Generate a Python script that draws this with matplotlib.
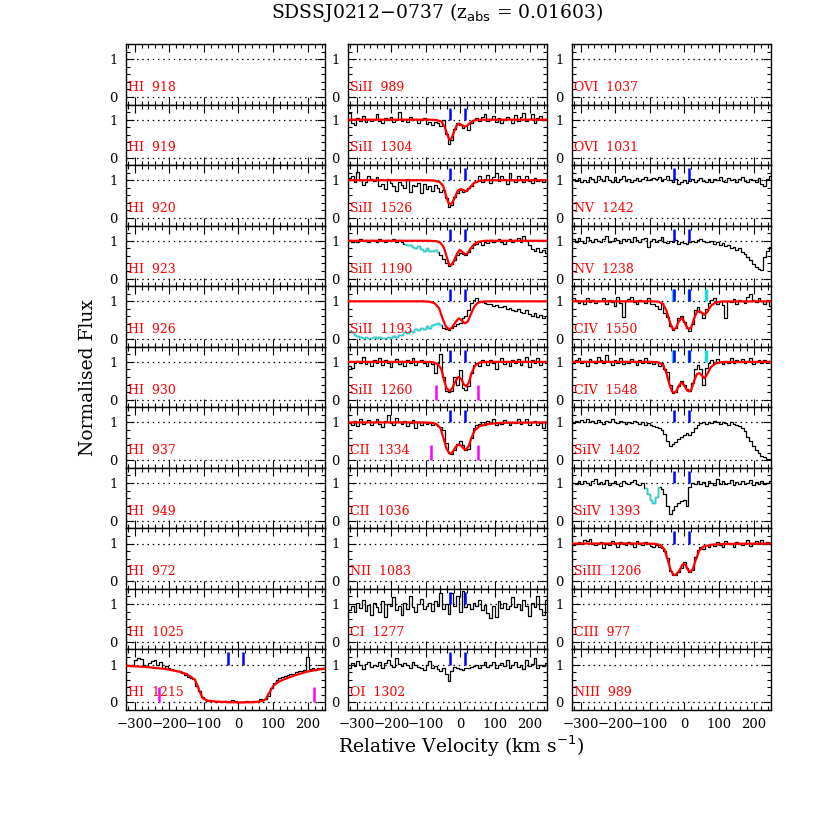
import numpy as np
import matplotlib
matplotlib.use('Agg')
import matplotlib.pyplot as plt
from matplotlib.ticker import MultipleLocator, FixedLocator

# pixel centres of the binned spectra (km/s)
vel = np.arange(-321, 248, 8)

# ---- fluxes, in percent of the continuum ----
hi1215 = [98, 97, 100, 112, 118, 115, 100, 96, 104, 110,
          112, 98, 106, 92, 96, 90, 88, 86, 82, 84,
          78, 72, 66, 64, 62, 44, 30, 14, 8, 4,
          3, 5, 2, 4, 1, 3, 2, 1, 6, 3,
          1, 2, 0, 3, 2, 1, 4, 2, 8, 6,
          10, 16, 38, 52, 58, 64, 66, 70, 72, 74,
          76, 80, 82, 84, 86, 120, 88, 90, 86, 92, 88, 90]
si1304 = [118, 92, 85, 104, 96, 110, 93, 101, 97, 103,
          115, 97, 92, 104, 99, 108, 95, 100, 120, 96,
          102, 94, 106, 98, 103, 91, 100, 105, 88, 93,
          86, 95, 90, 84, 98, 62, 35, 46, 76, 92,
          86, 79, 82, 74, 90, 100, 104, 97, 108, 115,
          96, 101, 110, 95, 104, 92, 98, 106, 103, 90,
          112, 97, 108, 118, 96, 101, 114, 92, 105, 110, 98, 103]
si1526 = [105, 112, 96, 122, 100, 88, 94, 110, 103, 98,
          108, 86, 90, 78, 104, 92, 86, 72, 95, 88,
          80, 102, 70, 88, 84, 93, 66, 90, 76, 85,
          72, 88, 80, 68, 75, 52, 30, 34, 55, 66,
          74, 70, 72, 80, 86, 94, 98, 110, 95, 104,
          115, 92, 108, 120, 98, 112, 104, 90, 118, 100,
          96, 112, 104, 95, 110, 99, 92, 106, 98, 101, 95, 100]
si1190 = [102, 98, 100, 96, 104, 99, 101, 97, 103, 100,
          98, 105, 100, 97, 102, 99, 104, 96, 101, 98,
          92, 88, 90, 84, 80, 86, 78, 74, 80, 72,
          74, 76, 70, 62, 52, 40, 34, 38, 50, 62,
          68, 66, 62, 70, 80, 88, 92, 96, 90, 98,
          95, 102, 96, 100, 104, 98, 92, 100, 106, 97,
          103, 108, 96, 112, 100, 90, 78, 74, 80, 70, 75, 68]
si1193 = [22, 18, 12, 8, 6, 4, 5, 3, 4, 6,
          3, 5, 4, 2, 6, 4, 8, 5, 12, 10,
          18, 15, 22, 20, 26, 24, 30, 28, 34, 30,
          38, 40, 42, 38, 30, 26, 24, 30, 36, 40,
          44, 56, 62, 78, 96, 104, 108, 100, 98, 95,
          92, 94, 88, 90, 86, 84, 88, 80, 82, 78,
          74, 80, 72, 68, 76, 66, 62, 70, 58, 64, 55, 60]
si1260 = [88, 84, 96, 102, 98, 112, 94, 100, 88, 104,
          96, 110, 92, 104, 98, 86, 100, 108, 95, 103,
          90, 105, 98, 110, 92, 100, 104, 96, 88, 102,
          95, 70, 98, 120, 60, 22, 20, 24, 60, 40,
          78, 30, 25, 35, 70, 92, 96, 88, 104, 100,
          92, 106, 98, 80, 102, 110, 95, 100, 88, 104,
          96, 108, 92, 100, 112, 86, 104, 98, 110, 92, 100, 96]
c1334 = [98, 92, 104, 90, 110, 96, 100, 106, 94, 102,
         108, 96, 88, 104, 120, 98, 92, 112, 100, 95,
         103, 90, 98, 106, 84, 100, 94, 102, 96, 98,
         92, 96, 90, 88, 80, 45, 18, 16, 26, 42,
         52, 40, 28, 30, 58, 84, 92, 96, 100, 94,
         104, 98, 110, 92, 100, 96, 106, 102, 94, 100,
         98, 108, 96, 102, 110, 94, 100, 104, 92, 98, 86, 100]
c1277 = [85, 96, 78, 104, 90, 112, 82, 98, 70, 102,
         92, 80, 108, 66, 100, 94, 118, 84, 96, 72,
         104, 88, 122, 92, 78, 100, 114, 86, 96, 104,
         82, 108, 96, 128, 86, 100, 74, 130, 96, 120,
         80, 134, 92, 100, 88, 102, 96, 110, 84, 98,
         76, 62, 94, 66, 108, 90, 102, 86, 96, 118,
         92, 100, 84, 112, 96, 68, 104, 92, 120, 86, 70, 112]
o1302 = [92, 104, 96, 110, 98, 88, 102, 106, 94, 100,
         96, 108, 90, 104, 112, 98, 94, 118, 102, 96,
         104, 98, 92, 106, 100, 94, 90, 86, 98, 110,
         92, 96, 88, 84, 90, 76, 56, 82, 94, 90,
         88, 86, 92, 90, 94, 96, 100, 92, 98, 106,
         94, 100, 108, 92, 98, 104, 96, 112, 90, 100,
         106, 94, 100, 88, 112, 96, 102, 118, 92, 100, 96, 104]
n1242 = [102, 98, 106, 96, 100, 94, 108, 102, 96, 110,
         104, 98, 112, 100, 96, 108, 94, 102, 110, 98,
         104, 96, 100, 106, 98, 102, 108, 100, 104, 106,
         102, 108, 98, 104, 112, 100, 96, 104, 90, 94,
         100, 92, 98, 104, 96, 100, 106, 98, 94, 102,
         96, 104, 100, 108, 98, 94, 106, 100, 104, 96,
         102, 108, 98, 96, 104, 100, 94, 106, 90, 86, 104, 110]
n1238 = [104, 98, 108, 100, 94, 110, 102, 96, 106, 100,
         98, 104, 112, 96, 100, 108, 102, 94, 104, 100,
         106, 98, 110, 102, 96, 104, 108, 84, 100, 104,
         96, 102, 110, 98, 94, 100, 96, 102, 92, 96,
         94, 92, 98, 100, 96, 102, 104, 100, 98, 96,
         100, 92, 96, 88, 94, 86, 90, 80, 84, 76,
         80, 70, 64, 56, 48, 38, 30, 26, 22, 58, 74, 84]
c1550 = [110, 104, 96, 100, 92, 108, 98, 104, 96, 102,
         100, 110, 94, 104, 98, 88, 112, 96, 58, 100,
         106, 112, 98, 92, 104, 100, 96, 108, 92, 94,
         88, 80, 96, 70, 58, 34, 24, 30, 56, 60,
         46, 30, 22, 40, 78, 86, 72, 56, 80, 96,
         104, 110, 92, 100, 90, 56, 100, 98, 106, 94,
         104, 100, 96, 112, 120, 104, 98, 108, 100, 92, 104, 88]
c1548 = [98, 104, 110, 96, 102, 90, 108, 100, 96, 112,
         104, 96, 118, 100, 92, 106, 98, 110, 94, 102,
         96, 108, 100, 92, 104, 98, 110, 96, 102, 94,
         100, 90, 96, 80, 72, 40, 18, 20, 36, 50,
         40, 28, 24, 44, 82, 92, 80, 40, 84, 98,
         104, 96, 108, 100, 94, 102, 98, 110, 96, 104,
         100, 108, 96, 102, 110, 94, 100, 106, 98, 104, 96, 102]
si1402 = [98, 104, 100, 106, 102, 108, 100, 104, 98, 106,
          102, 96, 104, 100, 108, 102, 98, 104, 100, 96,
          102, 98, 104, 100, 96, 102, 94, 98, 92, 90,
          88, 84, 80, 70, 52, 38, 42, 48, 56, 62,
          66, 72, 68, 74, 84, 92, 98, 100, 96, 102,
          98, 104, 100, 96, 102, 98, 94, 100, 96, 92,
          90, 84, 76, 62, 50, 38, 26, 18, 12, 8, 4, 3]
si1393 = [100, 96, 104, 98, 106, 100, 94, 104, 110, 98,
          102, 96, 108, 94, 100, 106, 98, 92, 104, 100,
          96, 102, 108, 98, 94, 100, 86, 72, 56, 48,
          62, 90, 84, 70, 38, 18, 28, 38, 46, 52,
          56, 40, 88, 100, 96, 104, 98, 102, 92, 106,
          100, 94, 110, 98, 104, 96, 100, 108, 94, 102,
          98, 104, 96, 100, 108, 94, 102, 98, 104, 96, 100, 106]
si1206 = [96, 98, 104, 100, 108, 106, 112, 100, 96, 102,
          104, 88, 100, 96, 106, 98, 90, 104, 100, 96,
          104, 100, 92, 106, 98, 96, 104, 100, 94, 90,
          96, 92, 88, 80, 62, 28, 16, 18, 24, 36,
          50, 34, 24, 30, 64, 84, 90, 86, 96, 92,
          100, 94, 104, 96, 92, 106, 98, 100, 90, 104,
          98, 96, 102, 108, 94, 100, 106, 98, 110, 100, 104, 98]

# ---- model fits (velocity, normalised flux) ----
hi1215_fit_v = [-325, -260, -207, -170, -150, -135, -126, -120, -116, -108, -102, -90, -63, 0,
                50, 71, 80, 85, 92, 100, 110, 119, 140, 158, 196, 250]
hi1215_fit_f = [0.97, 0.93, 0.88, 0.81, 0.75, 0.66, 0.6, 0.48, 0.38, 0.2, 0.1, 0.05, 0.02, 0.0,
                0.01, 0.04, 0.1, 0.2, 0.3, 0.43, 0.51, 0.56, 0.64, 0.7, 0.81, 0.9]
si1304_fit_v = [-325, -90, -70, -55, -45, -38, -32, -26, -18, -10, -4, 4, 12, 18, 26, 36, 50, 70, 250]
si1304_fit_f = [1, 1, 0.99, 0.95, 0.8, 0.6, 0.47, 0.5, 0.7, 0.86, 0.9, 0.86, 0.82, 0.83, 0.9, 0.97, 0.995, 1, 1]
si1526_fit_v = [-325, -100, -75, -60, -50, -42, -35, -30, -24, -16, -8, 0, 8, 15, 22, 30, 40, 55, 75, 250]
si1526_fit_f = [1, 1, 0.99, 0.95, 0.85, 0.6, 0.4, 0.36, 0.4, 0.55, 0.72, 0.77, 0.74, 0.71, 0.75, 0.84, 0.93, 0.985, 1, 1]
si1190_fit_v = [-325, -90, -70, -58, -48, -40, -33, -27, -20, -10, -2, 6, 14, 20, 28, 38, 50, 70, 250]
si1190_fit_f = [1, 1, 0.99, 0.95, 0.82, 0.58, 0.38, 0.35, 0.45, 0.66, 0.76, 0.7, 0.64, 0.66, 0.78, 0.9, 0.97, 1, 1]
si1193_fit_v = [-325, -110, -90, -75, -62, -52, -42, -33, -25, -15, -5, 3, 12, 20, 30, 40, 50, 65, 90, 250]
si1193_fit_f = [1, 1, 0.99, 0.95, 0.82, 0.55, 0.33, 0.26, 0.3, 0.44, 0.55, 0.5, 0.42, 0.45, 0.66, 0.86, 0.96, 0.995, 1, 1]
si1260_fit_v = [-325, -100, -80, -65, -55, -47, -40, -32, -24, -14, -6, 2, 10, 17, 24, 32, 42, 55, 75, 250]
si1260_fit_f = [1, 1, 0.99, 0.94, 0.8, 0.5, 0.3, 0.23, 0.3, 0.5, 0.6, 0.55, 0.4, 0.35, 0.45, 0.7, 0.9, 0.98, 1, 1]
c1334_fit_v = [-325, -110, -85, -70, -58, -48, -40, -32, -24, -14, -6, 2, 10, 16, 24, 32, 42, 55, 80, 120, 250]
c1334_fit_f = [1, 1, 0.99, 0.96, 0.85, 0.55, 0.3, 0.18, 0.2, 0.35, 0.42, 0.38, 0.3, 0.28, 0.38, 0.6, 0.8, 0.9, 0.96, 0.99, 1]
c1550_fit_v = [-325, -100, -75, -62, -52, -44, -36, -30, -24, -16, -8, 0, 8, 14, 20, 28, 36, 44, 52, 58, 66, 76, 90, 110, 250]
c1550_fit_f = [1, 1, 0.99, 0.93, 0.75, 0.5, 0.3, 0.26, 0.3, 0.48, 0.56, 0.45, 0.3, 0.27, 0.32, 0.55, 0.72, 0.74, 0.68, 0.64, 0.72, 0.88, 0.97, 0.995, 1]
c1548_fit_v = [-325, -100, -75, -62, -52, -44, -36, -30, -24, -16, -8, 0, 8, 14, 20, 28, 36, 44, 52, 58, 66, 76, 90, 110, 250]
c1548_fit_f = [1, 1, 0.99, 0.92, 0.7, 0.42, 0.22, 0.18, 0.22, 0.38, 0.46, 0.36, 0.24, 0.22, 0.27, 0.5, 0.68, 0.7, 0.62, 0.57, 0.68, 0.86, 0.96, 0.995, 1]
si1206_fit_v = [-325, -110, -85, -70, -58, -48, -40, -32, -24, -14, -5, 2, 10, 16, 24, 32, 42, 55, 80, 120, 250]
si1206_fit_f = [1, 1, 0.99, 0.96, 0.85, 0.55, 0.3, 0.17, 0.18, 0.3, 0.45, 0.45, 0.3, 0.25, 0.32, 0.55, 0.8, 0.92, 0.97, 0.99, 1]

# ---- panel layout ----
col1 = ['HI 918', 'HI 919', 'HI 920', 'HI 923', 'HI 926', 'HI 930', 'HI 937',
        'HI 949', 'HI 972', 'HI 1025', 'HI 1215']
col2 = ['SiII 989', 'SiII 1304', 'SiII 1526', 'SiII 1190', 'SiII 1193', 'SiII 1260',
        'CII 1334', 'CII 1036', 'NII 1083', 'CI 1277', 'OI 1302']
col3 = ['OVI 1037', 'OVI 1031', 'NV 1242', 'NV 1238', 'CIV 1550', 'CIV 1548',
        'SiIV 1402', 'SiIV 1393', 'SiIII 1206', 'CIII 977', 'NIII 989']

spectra = {'HI 1215': hi1215, 'SiII 1304': si1304, 'SiII 1526': si1526,
           'SiII 1190': si1190, 'SiII 1193': si1193, 'SiII 1260': si1260,
           'CII 1334': c1334, 'CI 1277': c1277, 'OI 1302': o1302,
           'NV 1242': n1242, 'NV 1238': n1238, 'CIV 1550': c1550,
           'CIV 1548': c1548, 'SiIV 1402': si1402, 'SiIV 1393': si1393,
           'SiIII 1206': si1206}
fits = {'HI 1215': (hi1215_fit_v, hi1215_fit_f),
        'SiII 1304': (si1304_fit_v, si1304_fit_f),
        'SiII 1526': (si1526_fit_v, si1526_fit_f),
        'SiII 1190': (si1190_fit_v, si1190_fit_f),
        'SiII 1193': (si1193_fit_v, si1193_fit_f),
        'SiII 1260': (si1260_fit_v, si1260_fit_f),
        'CII 1334': (c1334_fit_v, c1334_fit_f),
        'CIV 1550': (c1550_fit_v, c1550_fit_f),
        'CIV 1548': (c1548_fit_v, c1548_fit_f),
        'SiIII 1206': (si1206_fit_v, si1206_fit_f)}
# blended pieces drawn in cyan (velocity range)
blends = {'SiII 1190': (-165, -60), 'SiII 1193': (-330, -55), 'SiIV 1393': (-120, -72)}
comp_v = [-30, 14]              # blue component markers
civ_extra = [-32, 12, 62]       # cyan markers on CIV
magenta = {'HI 1215': [-229, 218], 'SiII 1260': [-70, 52], 'CII 1334': [-84, 52]}

fig = plt.figure(figsize=(8.14, 8.14), dpi=100)
W = 814.0
lefts = [126, 348, 572]
pw = 199
top = 44
ph = 666 / 11.0
serif = 'DejaVu Serif'

for c, col in enumerate([col1, col2, col3]):
    for r, name in enumerate(col):
        ax = fig.add_axes([lefts[c] / W, 1 - (top + (r + 1) * ph) / W, pw / W, ph / W])
        ax.set_xlim(-325, 250)
        ax.set_ylim(-0.2, 1.4)
        ax.axhline(0, color='k', lw=0.9, ls=(0, (1.2, 3)), zorder=1)
        ax.axhline(1, color='k', lw=0.9, ls=(0, (1.2, 3)), zorder=1)

        if name in spectra:
            f = np.array(spectra[name]) / 100.0
            ax.step(vel, f, where='mid', color='k', lw=0.9, zorder=2)
            if name in blends:
                lo, hi = blends[name]
                m = (vel >= lo) & (vel <= hi)
                ax.step(vel[m], f[m], where='mid', color='#22d8d8', lw=1.0, zorder=2.5)
            if name in fits:
                fv, ff = fits[name]
                ax.plot(fv, ff, color='red', lw=1.6, zorder=3)
            if name.startswith('CIV'):
                ax.vlines(civ_extra, 1.0, 1.32, color='#22d8d8', lw=2.5, zorder=4)
            ax.vlines(comp_v, 1.0, 1.32, color='blue', lw=1.8, zorder=5)
            if name in magenta:
                ax.vlines(magenta[name], 0.0, 0.4, color='magenta', lw=1.8, zorder=5)

        ax.text(-318, 0.08, name.replace(' ', '  '), color='red', fontsize=9,
                family=serif, ha='left', va='bottom', zorder=6)

        ax.xaxis.set_major_locator(MultipleLocator(100))
        ax.xaxis.set_minor_locator(MultipleLocator(20))
        ax.yaxis.set_major_locator(FixedLocator([0, 1]))
        ax.yaxis.set_minor_locator(MultipleLocator(0.2))
        ax.tick_params(which='both', direction='in', top=True, right=True, width=0.8)
        ax.tick_params(which='major', length=5.5, labelsize=9.5, pad=6)
        ax.tick_params(which='minor', length=3.2)
        for lab in ax.get_xticklabels() + ax.get_yticklabels():
            lab.set_family(serif)
        if r != len(col) - 1:
            ax.tick_params(labelbottom=False)
        for s in ax.spines.values():
            s.set_linewidth(1.0)

fig.text(0.537, 0.985, 'SDSSJ0212\u22120737 (z$_{\\rm abs}$ = 0.01603)', ha='center',
         va='center', fontsize=13.5, family=serif)
fig.text(0.108, 0.536, 'Normalised Flux', rotation=90, ha='center', va='center',
         fontsize=13.5, family=serif)
fig.text(0.566, 0.0835, 'Relative Velocity (km s$^{-1}$)', ha='center', va='center',
         fontsize=13.5, family=serif)

fig.savefig('out.png', dpi=100)
